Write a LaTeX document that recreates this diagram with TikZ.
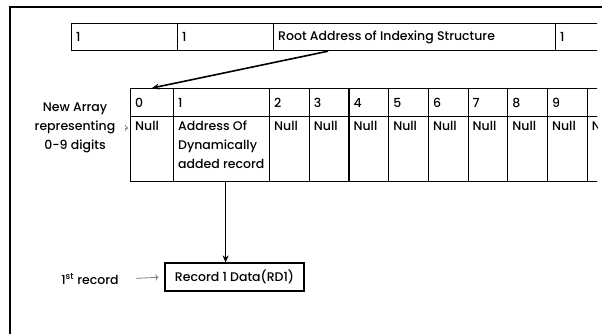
\documentclass[tikz,border=0pt]{standalone}
\usepackage{fontspec}
\setmainfont{Poppins}[UprightFont=* Medium]
\usetikzlibrary{arrows.meta}

\tikzset{
  every node/.style={font=\fontsize{12.5}{19}\selectfont},
  cell/.style={draw, line width=1.2pt, anchor=north west, inner sep=0pt},
  hd/.style={anchor=west, inner sep=5pt},
  dt/.style={anchor=north west, inner sep=5pt, align=left},
  link/.style={line width=1.6pt, -{Stealth[length=7pt,width=6pt]}},
  hint/.style={gray, line width=0.8pt, -{To[length=3pt]}},
}

\begin{document}
\begin{tikzpicture}[x=1pt,y=-1pt]
  \useasboundingbox (0,0) rectangle (602,334);
  % outer frame, only two sides show
  \draw[line width=2pt] (10,334) -- (10,7) -- (602,7);

  \begin{scope}
    \clip (0,0) rectangle (597,334);
    % first record row
    \node[cell, minimum width=106pt, minimum height=27pt, label={[hd]west:1}] (t1) at (71,23) {};
    \node[cell, minimum width=96pt, minimum height=27pt, label={[hd]west:1}] (t2) at (177,23) {};
    \node[cell, minimum width=282pt, minimum height=27pt, label={[hd]west:Root Address of Indexing Structure}] (t3) at (273,23) {};
    \node[cell, minimum width=60pt, minimum height=27pt, label={[hd]west:1}] (t4) at (555,23) {};

    % index array, header and slots
    \node[cell, minimum width=43pt, minimum height=28pt, label={[hd]west:0}] (h0) at (130,88) {};
    \node[cell, minimum width=96pt, minimum height=28pt, label={[hd]west:1}] (h1) at (173,88) {};
    \node[cell, minimum width=43pt, minimum height=65pt, label={[dt]north west:Null}] (d0) at (130,116) {};
    \node[cell, minimum width=96pt, minimum height=65pt, label={[dt]north west:Address Of\\Dynamically\\added record}] (d1) at (173,116) {};
    \foreach \i in {2,...,9} {
      \pgfmathsetmacro\xl{269+39.7*(\i-2)}
      \node[cell, minimum width=39.7pt, minimum height=28pt, label={[hd]west:\i}] (h\i) at (\xl,88) {};
    }
    \node[cell, minimum width=39.7pt, minimum height=28pt] (h10) at (586.6,88) {};
    \foreach \i in {2,...,10} {
      \pgfmathsetmacro\xl{269+39.7*(\i-2)}
      \node[cell, minimum width=39.7pt, minimum height=65pt, label={[dt]north west:Null}] (d\i) at (\xl,116) {};
    }
  \end{scope}

  \node[align=center] (newarr) at (75,128) {New Array\\representing\\0-9 digits};

  % record reached through slot 1
  \node[draw, line width=1.2pt, minimum width=139pt, minimum height=28pt] (rec) at (234.5,277) {Record 1 Data(RD1)};
  \node (first) at (90,279) {1\textsuperscript{st} record};

  \draw[link] ([xshift=55pt]t3.south west) -- (h0.north);
  \draw[link] ([xshift=4pt]d1.south) -- ([xshift=4pt]d1.south |- rec.north);
  \draw[hint] ([xshift=6pt]newarr.east) -- ([xshift=-2pt]newarr.east -| d0.west);
  \draw[hint, shorten <=14pt, shorten >=6pt] (first.east) -- (rec.west);
\end{tikzpicture}
\end{document}
